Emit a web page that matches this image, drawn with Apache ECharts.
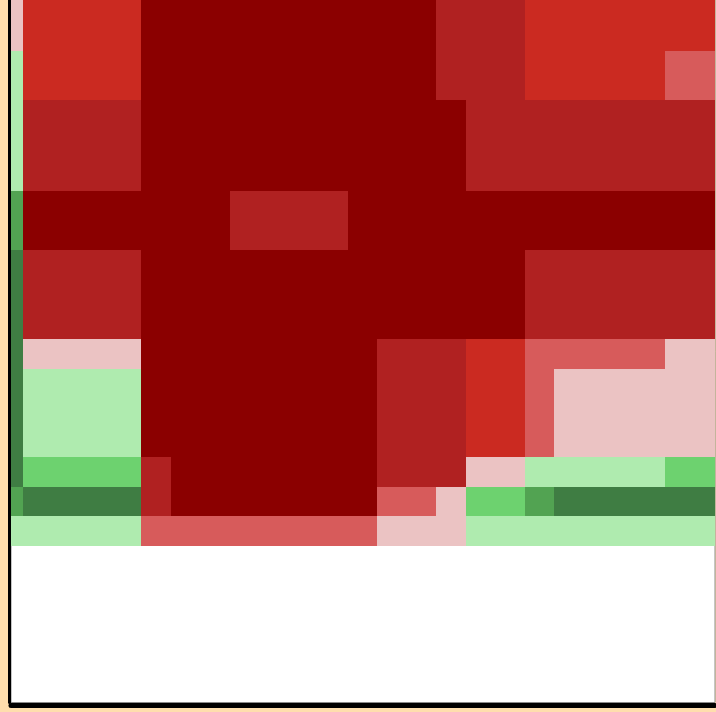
<!DOCTYPE html>
<html>
<head>
<meta charset="utf-8">
<title>Binned heatmap</title>
<script src="https://cdn.jsdelivr.net/npm/echarts@6/dist/echarts.min.js"></script>
<style>
  html, body { margin: 0; padding: 0; background: #FFDEAD; }
  #chart { width: 716px; height: 712px; }
</style>
</head>
<body>
<div id="chart"></div>
<script>
// Bin edges (non-uniform) along each axis
const xEdges = [0, 0.41, 4.43, 5.45, 7.47, 11.49, 12.48, 14.49, 15.51, 17.52, 18.51, 22.3, 24];
const yEdges = [24, 22.26, 20.58, 17.47, 15.46, 12.42, 11.39, 8.39, 7.36, 6.37, 5.35]; // top to bottom

// Level per bin: negative = green side, positive = red side
// rows listed top to bottom, columns left to right
const levels = [
  [ 1,  3,  5,  5,  5,  5,  5,  4,  4,  3,  3,  3],
  [-1,  3,  5,  5,  5,  5,  5,  4,  4,  3,  3,  2],
  [-1,  4,  5,  5,  5,  5,  5,  5,  4,  4,  4,  4],
  [-3,  5,  5,  5,  4,  5,  5,  5,  5,  5,  5,  5],
  [-4,  4,  5,  5,  5,  5,  5,  5,  5,  4,  4,  4],
  [-4,  1,  5,  5,  5,  5,  4,  4,  3,  2,  2,  1],
  [-4, -1,  5,  5,  5,  5,  4,  4,  3,  2,  1,  1],
  [-4, -2,  4,  5,  5,  5,  4,  4,  1, -1, -1, -2],
  [-3, -4,  4,  5,  5,  5,  2,  1, -2, -3, -4, -4],
  [-1, -1,  2,  2,  2,  2,  1,  1, -1, -1, -1, -1]
];

const levelColors = [
  { value: -4, color: '#3F7D43' },
  { value: -3, color: '#52A352' },
  { value: -2, color: '#6DD26F' },
  { value: -1, color: '#AFEBAF' },
  { value:  1, color: '#EBC3C3' },
  { value:  2, color: '#D75B5B' },
  { value:  3, color: '#CB2A21' },
  { value:  4, color: '#B02121' },
  { value:  5, color: '#8B0000' }
];

// Build [x0, x1, yBottom, yTop, level] items
const cells = [];
for (let r = 0; r < levels.length; r++) {
  for (let c = 0; c < levels[r].length; c++) {
    cells.push([xEdges[c], xEdges[c + 1], yEdges[r + 1], yEdges[r], levels[r][c]]);
  }
}

const chart = echarts.init(document.getElementById('chart'), null, { renderer: 'canvas' });
chart.setOption({
  backgroundColor: '#FFDEAD',
  animation: false,
  grid: {
    left: 11, right: 1, top: 0, bottom: 9.5,
    show: true,
    backgroundColor: '#FFFFFF',
    borderColor: '#8a8a8a',
    borderWidth: 1
  },
  xAxis: {
    type: 'value', min: 0, max: 24, offset: 3,
    axisLine: { show: true, onZero: false, lineStyle: { color: '#000', width: 5 } },
    axisTick: { show: false }, axisLabel: { show: false }, splitLine: { show: false }
  },
  yAxis: {
    type: 'value', min: 0, max: 24, offset: 1.5,
    axisLine: { show: true, onZero: false, lineStyle: { color: '#000', width: 3 } },
    axisTick: { show: false }, axisLabel: { show: false }, splitLine: { show: false }
  },
  visualMap: {
    type: 'piecewise', show: false, dimension: 4,
    pieces: levelColors.map(p => ({ value: p.value, color: p.color }))
  },
  series: [{
    type: 'custom',
    clip: true,
    encode: { x: [0, 1], y: [2, 3] },
    data: cells,
    renderItem: function (params, api) {
      const cs = params.coordSys;
      const p0 = api.coord([api.value(0), api.value(3)]);
      const p1 = api.coord([api.value(1), api.value(2)]);
      // snap to whole pixels so neighbouring bins share edges without seams
      const x0 = Math.max(Math.round(p0[0]), Math.round(cs.x));
      const x1 = Math.min(Math.round(p1[0]), Math.ceil(cs.x + cs.width) + 1);
      const y0 = Math.max(Math.round(p0[1]), Math.round(cs.y));
      const y1 = Math.min(Math.round(p1[1]), Math.round(cs.y + cs.height));
      return {
        type: 'rect',
        shape: { x: x0, y: y0, width: x1 - x0, height: y1 - y0 },
        style: { fill: api.visual('color') }
      };
    }
  }]
});
</script>
</body>
</html>
